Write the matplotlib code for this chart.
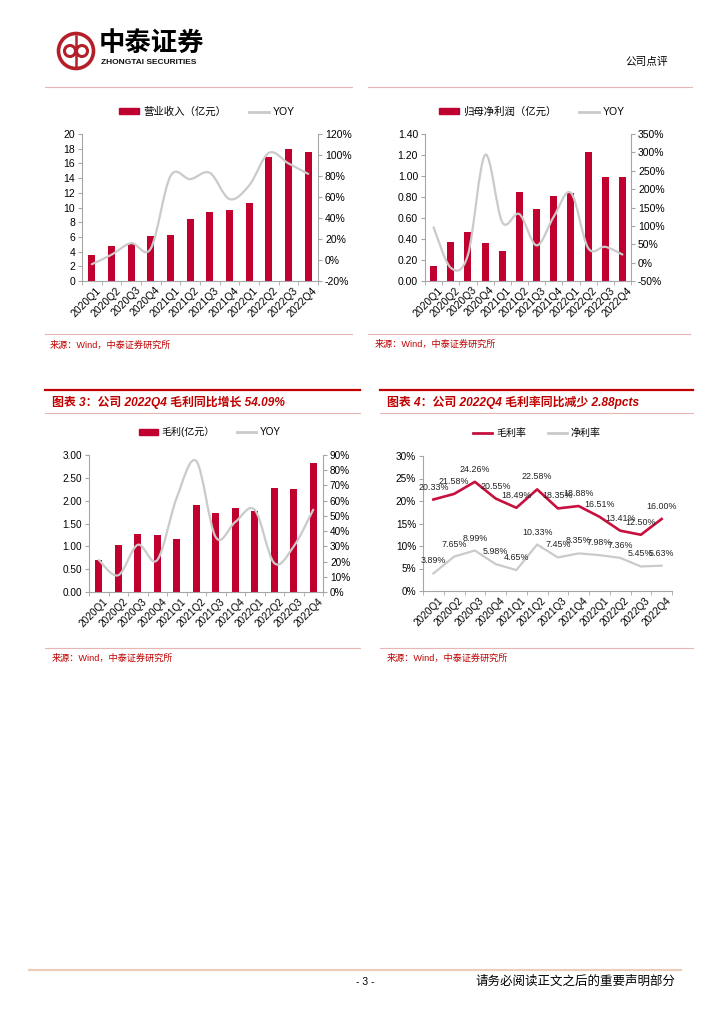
import numpy as np
import matplotlib
matplotlib.use('Agg')
import matplotlib.pyplot as plt
import matplotlib.transforms as mtransforms
from matplotlib.path import Path
from matplotlib.patches import PathPatch, Circle, Rectangle
from matplotlib.lines import Line2D
from matplotlib.ticker import FuncFormatter

plt.rcParams['font.family'] = ['Liberation Sans', 'Noto Sans CJK SC', 'DejaVu Sans']

# data
quarters = ['2020Q1', '2020Q2', '2020Q3', '2020Q4', '2021Q1', '2021Q2',
            '2021Q3', '2021Q4', '2022Q1', '2022Q2', '2022Q3', '2022Q4']
revenue = [3.5, 4.75, 5.1, 6.1, 6.25, 8.4, 9.4, 9.65, 10.65, 16.9, 18.0, 17.6]
revenue_yoy = [-4, 5, 16, 11, 80, 77, 83, 58, 71, 102, 92, 82]
profit = [0.14, 0.37, 0.47, 0.36, 0.29, 0.85, 0.69, 0.81, 0.84, 1.23, 0.99, 0.99]
profit_yoy = [96, -14, 21, 293, 110, 132, 47, 125, 190, 40, 43, 22]
gross = [0.71, 1.02, 1.26, 1.25, 1.15, 1.90, 1.73, 1.83, 1.77, 2.27, 2.25, 2.82]
gross_yoy = [21, 11, 31, 21, 62, 86, 36, 46, 54, 19, 30, 54.09]
gross_margin = [20.33, 21.58, 24.26, 20.55, 18.49, 22.58, 18.35, 18.88, 16.51, 13.41, 12.50, 16.00]
net_margin = [3.89, 7.65, 8.99, 5.98, 4.65, 10.33, 7.45, 8.35, 7.98, 7.36, 5.45, 5.63]

RED = '#C0002F'
TITLE_RED = '#C00000'
GRAY_LINE = '#CACACA'
AXIS = '#A6A6A6'
PINK = '#E8B4B4'

W, H = 724, 1024
fig = plt.figure(figsize=(7.24, 10.24), dpi=100)
page = fig.add_axes([0, 0, 1, 1])
page.set_xlim(0, W)
page.set_ylim(H, 0)
page.axis('off')


def box(x0, y0, x1, y1):
    return [x0 / W, 1 - y1 / H, (x1 - x0) / W, (y1 - y0) / H]


def smooth(ax, x, y, **kw):
    # excel style smoothed line drawn as bezier path through the points
    x = np.asarray(x, float)
    y = np.asarray(y, float)
    px = np.concatenate([[x[0]], x, [x[-1]]])
    py = np.concatenate([[y[0]], y, [y[-1]]])
    verts = [(x[0], y[0])]
    codes = [Path.MOVETO]
    for i in range(len(x) - 1):
        c1 = (x[i] + (px[i + 2] - px[i]) / 6, y[i] + (py[i + 2] - py[i]) / 6)
        c2 = (x[i + 1] - (px[i + 3] - px[i + 1]) / 6, y[i + 1] - (py[i + 3] - py[i + 1]) / 6)
        verts += [c1, c2, (x[i + 1], y[i + 1])]
        codes += [Path.CURVE4] * 3
    ax.add_patch(PathPatch(Path(verts, codes), fill=False, capstyle='round', **kw))


def style_x(ax, fs):
    n = len(quarters)
    ax.set_xlim(-0.5, n - 0.5)
    ax.set_xticks(range(n))
    ax.set_xticklabels(quarters, rotation=45, ha='right', rotation_mode='anchor', fontsize=fs)
    ax.set_xticks(np.arange(n + 1) - 0.5, minor=True)
    ax.tick_params(axis='x', which='major', length=0, pad=3)
    ax.tick_params(axis='x', which='minor', length=3, color=AXIS)
    off = mtransforms.ScaledTranslation(4 / 100, 0, fig.dpi_scale_trans)
    for lab in ax.get_xticklabels():
        lab.set_transform(lab.get_transform() + off)


def style_y(ax, side, fs):
    for s in ax.spines:
        ax.spines[s].set_visible(False)
    ax.spines[side].set_visible(True)
    ax.spines[side].set_color(AXIS)
    ax.tick_params(axis='y', length=3, color=AXIS, labelsize=fs, pad=2)


def legend(ax, handles, labels, cx, cy, fs):
    ax.legend(handles, labels, loc='center', bbox_to_anchor=(cx / W, 1 - cy / H),
              bbox_transform=fig.transFigure, ncol=2, frameon=False, fontsize=fs,
              handlelength=1.9, handleheight=0.5, columnspacing=2.2, handletextpad=0.4)


def bar_line_chart(pos, bars, yoy, lims, ylims, fmt, bar_label, legend_xy, fs, bw):
    ax = fig.add_axes(box(*pos))
    x = np.arange(len(quarters))
    ax.bar(x, bars, width=bw, color=RED, zorder=2)
    ax.set_ylim(*lims[:2])
    ax.set_yticks(np.arange(lims[0], lims[1] + lims[2] / 2, lims[2]))
    ax.yaxis.set_major_formatter(FuncFormatter(fmt))
    style_y(ax, 'left', fs)
    ax.spines['bottom'].set_visible(True)
    ax.spines['bottom'].set_color(AXIS)
    style_x(ax, fs)
    ax2 = ax.twinx()
    ax2.set_ylim(*ylims[:2])
    ax2.set_yticks(np.arange(ylims[0], ylims[1] + 1, ylims[2]))
    ax2.yaxis.set_major_formatter(FuncFormatter(lambda v, p: f'{v:.0f}%'))
    style_y(ax2, 'right', fs)
    smooth(ax2, x, yoy, color=GRAY_LINE, lw=1.6, zorder=3)
    legend(ax, [Rectangle((0, 0), 1, 1, color=RED), Line2D([], [], color=GRAY_LINE, lw=2)],
           [bar_label, 'YOY'], legend_xy[0], legend_xy[1], fs)
    return ax


# chart 1 / 2 / 3
bar_line_chart((82, 134, 318, 281), revenue, revenue_yoy, (0, 20, 2), (-20, 120, 20),
               lambda v, p: f'{v:.0f}', '营业收入（亿元）', (207, 112), 7.5, 0.36)
bar_line_chart((425, 134, 631, 281), profit, profit_yoy, (0, 1.4, 0.2), (-50, 350, 50),
               lambda v, p: f'{v:.2f}', '归母净利润（亿元）', (532, 112), 7.5, 0.4)
bar_line_chart((89, 455, 323, 592), gross, gross_yoy, (0, 3.0, 0.5), (0, 90, 10),
               lambda v, p: f'{v:.2f}', '毛利(亿元）', (210, 432), 7.2, 0.36)

# chart 4: margins
ax4 = fig.add_axes(box(423, 456, 672, 591))
x = np.arange(len(quarters))
ax4.plot(x, net_margin, color=GRAY_LINE, lw=1.6, zorder=2)
ax4.plot(x, gross_margin, color='#C8103E', lw=1.9, zorder=3)
for i in range(len(quarters)):
    ax4.annotate(f'{gross_margin[i]:.2f}%', (i, gross_margin[i]), xytext=(0, 9),
                 textcoords='offset points', ha='center', va='center', fontsize=6.4, color='#222222')
    ax4.annotate(f'{net_margin[i]:.2f}%', (i, net_margin[i]), xytext=(0, 9),
                 textcoords='offset points', ha='center', va='center', fontsize=6.4, color='#222222')
ax4.set_ylim(0, 30)
ax4.set_yticks(np.arange(0, 31, 5))
ax4.yaxis.set_major_formatter(FuncFormatter(lambda v, p: f'{v:.0f}%'))
style_y(ax4, 'left', 7.2)
ax4.spines['bottom'].set_visible(True)
ax4.spines['bottom'].set_color(AXIS)
style_x(ax4, 7.2)
ax4.legend([Line2D([], [], color='#C8103E', lw=2), Line2D([], [], color=GRAY_LINE, lw=2)],
           ['毛利率', '净利率'], loc='center', bbox_to_anchor=(537 / W, 1 - 433 / H),
           bbox_transform=fig.transFigure, ncol=2, frameon=False, fontsize=7.2,
           handlelength=1.9, columnspacing=2.2, handletextpad=0.4)

# page header
page.add_patch(Circle((76, 51), 17.5, fill=False, ec='#B3202A', lw=2.6))
page.add_patch(Circle((70, 51), 5.5, fill=False, ec='#B3202A', lw=2.2))
page.add_patch(Circle((82, 51), 5.5, fill=False, ec='#B3202A', lw=2.2))
page.plot([76, 76], [36, 66], color='#B3202A', lw=1.8)
page.text(99, 43, '中泰证券', fontsize=19, fontweight='bold', va='center', ha='left', color='black')
page.text(101, 63, 'ZHONGTAI SECURITIES', fontsize=6, fontweight='bold', va='center', ha='left', color='#111111')
page.text(668, 62, '公司点评', fontsize=7.7, va='center', ha='right', color='black')
page.plot([45, 352], [87, 87], color=PINK, lw=0.8)
page.plot([368, 692], [87, 87], color=PINK, lw=0.8)

# chart titles for 3 and 4
page.plot([45, 360], [390, 390], color=TITLE_RED, lw=1.6)
page.plot([380, 693], [390, 390], color=TITLE_RED, lw=1.6)
page.plot([45, 360], [413, 413], color=PINK, lw=0.8)
page.plot([380, 693], [413, 413], color=PINK, lw=0.8)
page.text(52, 402, '图表 3：公司 2022Q4 毛利同比增长 54.09%', fontsize=8.6, fontweight='bold',
          style='italic', color=TITLE_RED, va='center', ha='left')
page.text(387, 402, '图表 4：公司 2022Q4 毛利率同比减少 2.88pcts', fontsize=8.6, fontweight='bold',
          style='italic', color=TITLE_RED, va='center', ha='left')

# source lines
for x0, x1, yl, tx, ty in [(45, 352, 334, 50, 345), (368, 690, 334, 375, 344),
                            (45, 360, 648, 52, 658), (380, 693, 648, 387, 658)]:
    page.plot([x0, x1], [yl, yl], color=PINK, lw=0.8)
    page.text(tx, ty, '来源：Wind，中泰证券研究所', fontsize=6.6, color=TITLE_RED, va='center', ha='left')

# footer
page.plot([29, 681], [970, 970], color='#EBCDB8', lw=1.6)
page.text(365, 982, '- 3 -', fontsize=7.5, va='center', ha='center', color='black')
page.text(676, 982, '请务必阅读正文之后的重要声明部分', fontsize=9, va='center', ha='right', color='black')

fig.savefig('out.png', dpi=100)
